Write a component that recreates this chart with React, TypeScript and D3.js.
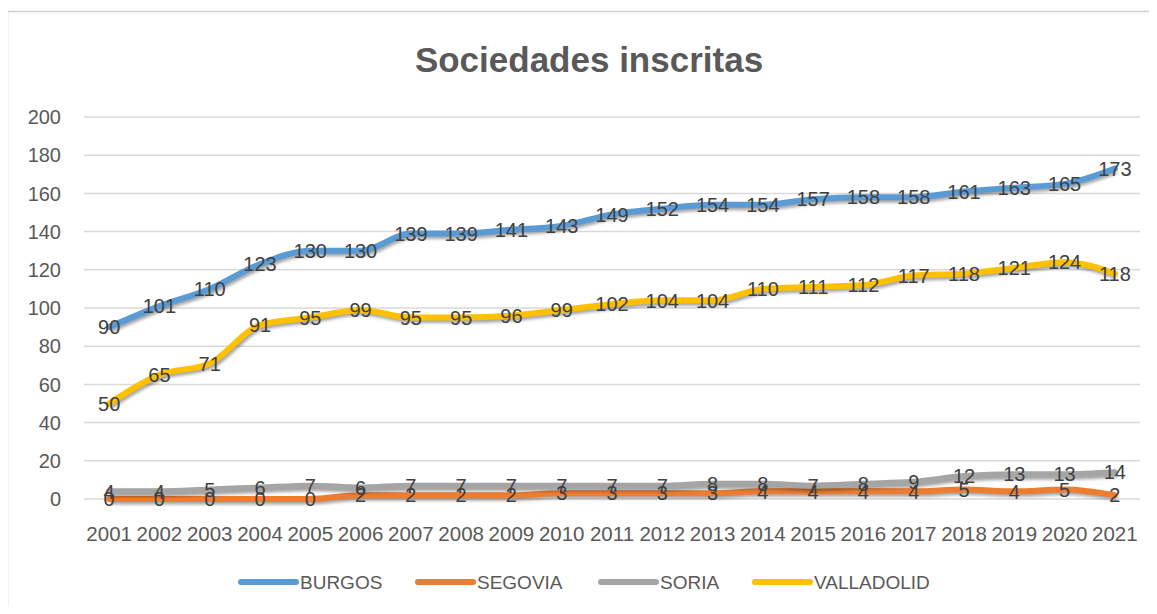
import React, { useRef, useEffect } from 'react';
import * as d3 from 'd3';

const years = ['2001', '2002', '2003', '2004', '2005', '2006', '2007', '2008', '2009', '2010', '2011',
  '2012', '2013', '2014', '2015', '2016', '2017', '2018', '2019', '2020', '2021'];

const burgos = [90, 101, 110, 123, 130, 130, 139, 139, 141, 143, 149, 152, 154, 154, 157, 158, 158, 161, 163, 165, 173];
const segovia = [0, 0, 0, 0, 0, 2, 2, 2, 2, 3, 3, 3, 3, 4, 4, 4, 4, 5, 4, 5, 2];
const soria = [4, 4, 5, 6, 7, 6, 7, 7, 7, 7, 7, 7, 8, 8, 7, 8, 9, 12, 13, 13, 14];
const valladolid = [50, 65, 71, 91, 95, 99, 95, 95, 96, 99, 102, 104, 104, 110, 111, 112, 117, 118, 121, 124, 118];

const yTicks = [0, 20, 40, 60, 80, 100, 120, 140, 160, 180, 200];

const series = [
  { name: 'BURGOS', values: burgos, color: '#5b9bd5' },
  { name: 'SEGOVIA', values: segovia, color: '#ed7d31' },
  { name: 'SORIA', values: soria, color: '#a5a5a5' },
  { name: 'VALLADOLID', values: valladolid, color: '#ffc000' },
];

const W = 1157;
const H = 614;
const FONT = '"Liberation Sans", Arial, sans-serif';

const SociedadesChart = () => {
  const ref = useRef<SVGSVGElement | null>(null);

  useEffect(() => {
    const svg = d3.select(ref.current);
    svg.selectAll('*').remove();

    const margin = { top: 117, left: 84, right: 17, bottom: 115 };
    const innerW = W - margin.left - margin.right;
    const innerH = H - margin.top - margin.bottom;

    const defs = svg.append('defs');
    defs.append('filter')
      .attr('id', 'shadow')
      .attr('x', '-10%').attr('y', '-50%').attr('width', '120%').attr('height', '200%')
      .append('feGaussianBlur')
      .attr('stdDeviation', 1.6);

    // chart frame (right/bottom edges run past the picture)
    svg.append('rect')
      .attr('x', 7.5).attr('y', 11.5)
      .attr('width', W).attr('height', H)
      .attr('fill', '#fff')
      .attr('stroke', '#d0d0d0')
      .attr('stroke-width', 1.5);

    svg.append('text')
      .attr('x', 589).attr('y', 72)
      .attr('text-anchor', 'middle')
      .attr('font-family', FONT)
      .attr('font-weight', 'bold')
      .attr('font-size', 35)
      .attr('fill', '#595959')
      .text('Sociedades inscritas');

    const g = svg.append('g').attr('transform', `translate(${margin.left},${margin.top})`);

    const x = d3.scaleBand().domain(years).range([0, innerW]);
    const y = d3.scaleLinear().domain([0, 200]).range([innerH, 0]);
    const cx = (i: number) => (x(years[i]) as number) + x.bandwidth() / 2;

    // gridlines
    g.selectAll('.grid')
      .data(yTicks)
      .enter()
      .append('line')
      .attr('x1', 0).attr('x2', innerW)
      .attr('y1', d => y(d)).attr('y2', d => y(d))
      .attr('stroke', '#d9d9d9')
      .attr('stroke-width', 1.5);

    g.selectAll('.ytick')
      .data(yTicks)
      .enter()
      .append('text')
      .attr('x', -23)
      .attr('y', d => y(d))
      .attr('dy', '0.36em')
      .attr('text-anchor', 'end')
      .attr('font-family', FONT)
      .attr('font-size', 20)
      .attr('fill', '#595959')
      .text(d => d);

    g.selectAll('.xtick')
      .data(years)
      .enter()
      .append('text')
      .attr('x', (d, i) => cx(i))
      .attr('y', innerH + 42)
      .attr('text-anchor', 'middle')
      .attr('font-family', FONT)
      .attr('font-size', 20.5)
      .attr('fill', '#595959')
      .text(d => d);

    const line = d3.line<number>()
      .x((d, i) => cx(i))
      .y(d => y(d))
      .curve(d3.curveMonotoneX);

    // shadows first, then lines, in series order
    series.forEach(s => {
      g.append('path')
        .datum(s.values)
        .attr('d', line)
        .attr('transform', 'translate(1.5,2.5)')
        .attr('fill', 'none')
        .attr('stroke', 'rgba(0,0,0,0.35)')
        .attr('stroke-width', 6)
        .attr('filter', 'url(#shadow)');
      g.append('path')
        .datum(s.values)
        .attr('d', line)
        .attr('fill', 'none')
        .attr('stroke', s.color)
        .attr('stroke-width', 6)
        .attr('stroke-linejoin', 'round')
        .attr('stroke-linecap', 'round');
    });

    series.forEach(s => {
      g.selectAll(null)
        .data(s.values)
        .enter()
        .append('text')
        .attr('x', (d, i) => cx(i))
        .attr('y', d => y(d))
        .attr('dy', '0.36em')
        .attr('text-anchor', 'middle')
        .attr('font-family', FONT)
        .attr('font-size', 20)
        .attr('fill', '#404040')
        .text(d => d);
    });

    // legend
    const legendX = [241, 418, 601, 755];
    const legend = svg.append('g').attr('transform', 'translate(0,582)');
    series.forEach((s, i) => {
      legend.append('line')
        .attr('x1', legendX[i]).attr('x2', legendX[i] + 55)
        .attr('y1', 0).attr('y2', 0)
        .attr('stroke', s.color)
        .attr('stroke-width', 6)
        .attr('stroke-linecap', 'round');
      legend.append('text')
        .attr('x', legendX[i] + 59)
        .attr('y', 0)
        .attr('dy', '0.36em')
        .attr('font-family', FONT)
        .attr('font-size', 19)
        .attr('fill', '#595959')
        .text(s.name);
    });
  }, []);

  return <svg ref={ref} width={W} height={H} style={{ display: 'block' }} />;
};

export default function App() {
  return (
    <div style={{ margin: -8 }}>
      <SociedadesChart />
    </div>
  );
}
